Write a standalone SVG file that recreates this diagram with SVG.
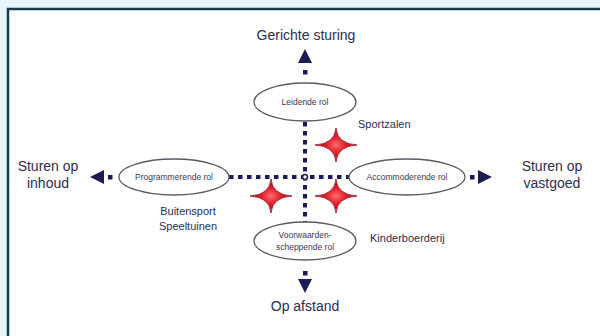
<svg xmlns="http://www.w3.org/2000/svg" width="600" height="336" viewBox="0 0 600 336">
<style>
.big{font-family:"Liberation Sans",Arial,sans-serif;font-size:14px;fill:#2d2d52;text-anchor:middle}
.mid{font-family:"Liberation Sans",Arial,sans-serif;font-size:11px;fill:#2d2d52}
.small{font-family:"Liberation Sans",Arial,sans-serif;font-size:8.5px;fill:#3a3a50;text-anchor:middle}
.node ellipse{fill:#ffffff;stroke:#5a5a66;stroke-width:1.3}
.dots{stroke:#1c1c55;stroke-width:4;stroke-dasharray:4.5 4.5;fill:none}
.sq{fill:#1c1c55}
.arr{fill:#1c1c55}
.star{fill:url(#sg);stroke:#9a1020;stroke-width:0.8}
</style>
<defs>
<radialGradient id="sg" cx="0.5" cy="0.5" r="0.5">
<stop offset="0" stop-color="#ff6a6a"/>
<stop offset="0.45" stop-color="#e0202c"/>
<stop offset="1" stop-color="#a0101c"/>
</radialGradient>
<path id="star" d="M0,-17 Q1.2,-1.2 21,0 Q1.2,1.2 0,17 Q-1.2,1.2 -21,0 Q-1.2,-1.2 0,-17Z"/>
</defs>
<rect x="0" y="0" width="600" height="336" fill="#eaf5fb"/>
<rect x="8" y="9" width="600" height="340" fill="#ffffff"/>
<path d="M8,336 V9 H600" fill="none" stroke="#0f3d52" stroke-width="2.5"/>

<g id="connectors">
<line class="dots" x1="305" y1="122" x2="305" y2="225"/>
<line class="dots" x1="229" y1="177" x2="350" y2="177"/>
<circle cx="305" cy="177" r="2.5" fill="#ffffff" stroke="#1c1c55" stroke-width="1.5"/>
<rect class="sq" x="303" y="70" width="4.5" height="4.5"/>
<polygon class="arr" points="305,49 298,63 312,63"/>
<rect class="sq" x="303" y="271" width="4.5" height="4.5"/>
<polygon class="arr" points="305,293 298,279 312,279"/>
<rect class="sq" x="108" y="175" width="4.5" height="4.5"/>
<polygon class="arr" points="90,177 104,170 104,184"/>
<rect class="sq" x="470" y="175" width="4.5" height="4.5"/>
<polygon class="arr" points="492,177 478,170 478,184"/>
</g>

<g id="stars">
<use href="#star" class="star" transform="translate(336,145)"/>
<use href="#star" class="star" transform="translate(271,196)"/>
<use href="#star" class="star" transform="translate(336,196)"/>
</g>

<g id="node-leidende" class="node">
<ellipse cx="305" cy="102" rx="51" ry="19"/>
<text class="small" x="305" y="105">Leidende rol</text>
</g>
<g id="node-programmerende" class="node">
<ellipse cx="174" cy="177" rx="55" ry="18"/>
<text class="small" x="174" y="180">Programmerende rol</text>
</g>
<g id="node-accommoderende" class="node">
<ellipse cx="407" cy="177" rx="58" ry="18"/>
<text class="small" x="407" y="180">Accommoderende rol</text>
</g>
<g id="node-voorwaarden" class="node">
<ellipse cx="305" cy="241" rx="51" ry="19"/>
<text class="small" x="305" y="238">Voorwaarden-</text>
<text class="small" x="305" y="250">scheppende rol</text>
</g>

<g id="labels">
<text class="big" x="306" y="40">Gerichte sturing</text>
<text class="big" x="305" y="311">Op afstand</text>
<text class="big" x="48" y="171">Sturen op</text>
<text class="big" x="48" y="188">inhoud</text>
<text class="big" x="552" y="171">Sturen op</text>
<text class="big" x="552" y="188">vastgoed</text>
<text class="mid" x="358" y="128">Sportzalen</text>
<text class="mid" x="188" y="215" text-anchor="middle">Buitensport</text>
<text class="mid" x="188" y="230" text-anchor="middle">Speeltuinen</text>
<text class="mid" x="370" y="242">Kinderboerderij</text>
</g>
</svg>
